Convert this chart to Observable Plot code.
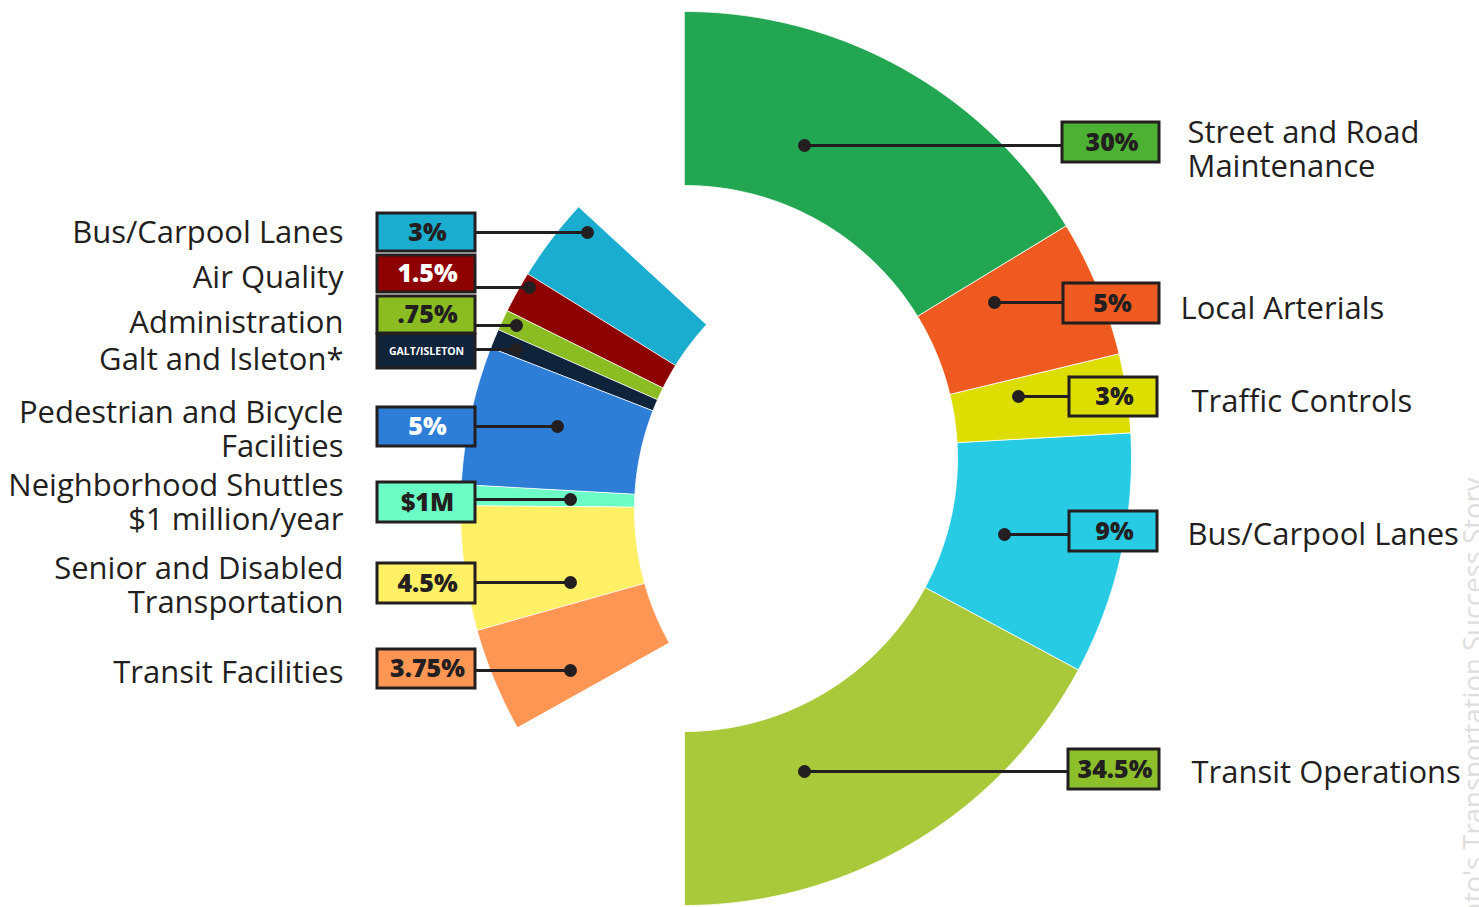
<!DOCTYPE html>
<html><head><meta charset="utf-8">
<script src="https://cdn.jsdelivr.net/npm/d3@7"></script>
<script src="https://cdn.jsdelivr.net/npm/@observablehq/plot@0.6"></script>
<style>
html,body{margin:0;padding:0;background:#fff;overflow:hidden;}
#chart svg{display:block;}
</style>
</head><body><div id="chart"></div>
<script>
// ---------------- DATA ----------------
// Right half (large program categories), top to bottom
const rightCategories = ["Street and Road\nMaintenance", "Local Arterials", "Traffic Controls", "Bus/Carpool Lanes", "Transit Operations"];
const rightShareLabels = ["30%", "5%", "3%", "9%", "34.5%"];
// sweep of each drawn wedge, as % of a full circle (the two big wedges are shown truncated)
const rightArcShares = [16.3, 4.95, 2.85, 8.75, 17.15];
const rightColors = ["#22a651", "#ee5a1f", "#dddd00", "#27cbe4", "#a9c83a"];
const rightBoxColors = ["#4db134", "#ee5a1f", "#dddd00", "#27cbe4", "#8dbf2a"];

// Left fragment (smaller programs), top to bottom
const leftCategories = ["Bus/Carpool Lanes", "Air Quality", "Administration", "Galt and Isleton*", "Pedestrian and Bicycle\nFacilities", "Neighborhood Shuttles\n$1 million/year", "Senior and Disabled\nTransportation", "Transit Facilities"];
const leftShareLabels = ["3%", "1.5%", ".75%", "GALT/ISLETON", "5%", "$1M", "4.5%", "3.75%"];
const leftArcShares = [3, 1.5, 0.75, 0.7, 5, 0.75, 4.5, 3.75];
const leftColors = ["#1badcf", "#8e0101", "#8bbd22", "#0f233a", "#2e7ed8", "#6cfcc6", "#fff066", "#ff9653"];
const leftTextColors = ["#231f20", "#ffffff", "#231f20", "#ffffff", "#ffffff", "#231f20", "#231f20", "#231f20"];

const sideNote = "Sacramento's Transportation Success Story";

// ---------------- LAYOUT ----------------
const W = 1479, H = 907;
const R_OUT = 447, R_IN = 273;
const rightCenter = [684, 458];
const leftCenter = [907, 509];
const rightStartDeg = 0;
const leftStartDeg = 240.8;
const DEG_PER_PCT = 3.6;

const rightLayout = {
  box: [[1062, 1159, 122, 162], [1063, 1159, 283, 323], [1069, 1157, 377, 416], [1069, 1157, 511, 551], [1068, 1159, 749, 789]],
  lineY: [145, 302, 396, 534, 771],
  dotX: [804, 994, 1018, 1004, 804],
  labelX: [1187, 1180, 1191, 1187, 1191],
  labelY: [149, 308, 401, 534, 772]
};
const leftLayout = {
  box: [[377, 475, 213, 251], [377, 475, 255, 292], [377, 475, 296, 333], [377, 475, 334, 368], [377, 475, 407, 446], [377, 475, 482, 522], [377, 475, 563, 603], [377, 475, 649, 688]],
  lineY: [232, 287, 325, 349, 426, 499, 582, 670],
  dotX: [587, 529, 516, 516, 557, 570, 570, 570],
  labelX: 343,
  labelY: [232, 277, 322, 359, 429, 502, 585, 672]
};

// ---------------- GEOMETRY ----------------
function wedge(key, color, center, a0, a1) {
  const rows = [];
  const n = Math.max(3, Math.ceil((a1 - a0) / 0.5));
  const pt = (a, r) => {
    const t = a * Math.PI / 180;
    return {key, color, x: center[0] + r * Math.sin(t), y: center[1] - r * Math.cos(t)};
  };
  for (let i = 0; i <= n; i++) rows.push(pt(a0 + (a1 - a0) * i / n, R_OUT));
  for (let i = n; i >= 0; i--) rows.push(pt(a0 + (a1 - a0) * i / n, R_IN));
  return rows;
}

const wedgeRows = [];
{
  let a = rightStartDeg;
  rightArcShares.forEach((s, i) => {
    const a1 = a + s * DEG_PER_PCT;
    wedgeRows.push(...wedge("R" + i, rightColors[i], rightCenter, a, a1));
    a = a1;
  });
  let b = leftStartDeg + d3.sum(leftArcShares) * DEG_PER_PCT;
  leftArcShares.forEach((s, i) => {
    const b0 = b - s * DEG_PER_PCT;
    wedgeRows.push(...wedge("L" + i, leftColors[i], leftCenter, b0, b));
    b = b0;
  });
}

const annotations = [
  ...rightCategories.map((c, i) => ({
    side: "right", category: c, share: rightShareLabels[i], boxFill: rightBoxColors[i], textFill: "#231f20",
    bx1: rightLayout.box[i][0], bx2: rightLayout.box[i][1], by1: rightLayout.box[i][2], by2: rightLayout.box[i][3],
    lineY: rightLayout.lineY[i], dotX: rightLayout.dotX[i], edgeX: rightLayout.box[i][0],
    lx: rightLayout.labelX[i], ly: rightLayout.labelY[i]
  })),
  ...leftCategories.map((c, i) => ({
    side: "left", category: c, share: leftShareLabels[i], boxFill: leftColors[i], textFill: leftTextColors[i],
    bx1: leftLayout.box[i][0], bx2: leftLayout.box[i][1], by1: leftLayout.box[i][2], by2: leftLayout.box[i][3],
    lineY: leftLayout.lineY[i], dotX: leftLayout.dotX[i], edgeX: leftLayout.box[i][1],
    lx: leftLayout.labelX, ly: leftLayout.labelY[i]
  }))
];
const rightAnn = annotations.filter(d => d.side === "right");
const leftAnn = annotations.filter(d => d.side === "left");

const FONT = "'Open Sans', 'Noto Sans', sans-serif";
const INK = "#231f20";

const chart = Plot.plot({
  width: W, height: H, margin: 0,
  x: {domain: [0, W], range: [0, W], axis: null},
  y: {domain: [0, H], range: [0, H], axis: null},
  style: {background: "#fff", fontFamily: FONT, overflow: "visible"},
  marks: [
    Plot.line(wedgeRows, {x: "x", y: "y", z: "key", fill: "color", stroke: "#ffffff", strokeWidth: 0.8, curve: "linear-closed"}),
    Plot.link(annotations, {x1: "dotX", x2: "edgeX", y1: "lineY", y2: "lineY", stroke: INK, strokeWidth: 3}),
    Plot.dot(annotations, {x: "dotX", y: "lineY", r: 6.5, fill: INK, stroke: null}),
    Plot.rect(annotations, {x1: "bx1", x2: "bx2", y1: "by1", y2: "by2", fill: "boxFill", stroke: INK, strokeWidth: 3}),
    Plot.text(annotations.filter(d => d.share !== "GALT/ISLETON"), {
      x: d => (d.bx1 + d.bx2) / 2 + 1, y: d => (d.by1 + d.by2) / 2, text: "share",
      fill: "textFill", fontSize: 25, fontWeight: 800, fontFamily: FONT
    }),
    Plot.text(annotations.filter(d => d.share === "GALT/ISLETON"), {
      x: d => (d.bx1 + d.bx2) / 2, y: d => (d.by1 + d.by2) / 2, text: "share",
      fill: "textFill", fontSize: 10.5, fontWeight: 700, fontFamily: FONT
    }),
    Plot.text(rightAnn, {x: "lx", y: "ly", text: "category", textAnchor: "start", fill: INK, fontSize: 31, lineHeight: 1.08, fontFamily: FONT}),
    Plot.text(leftAnn, {x: "lx", y: "ly", text: "category", textAnchor: "end", fill: INK, fontSize: 31, lineHeight: 1.08, fontFamily: FONT}),
    Plot.text([sideNote], {x: () => 1474, y: () => 477, text: d => d, rotate: -90, textAnchor: "end", fill: "#dedede", fontSize: 27.5, fontFamily: FONT})
  ]
});
document.getElementById("chart").appendChild(chart);
</script>
</body></html>
